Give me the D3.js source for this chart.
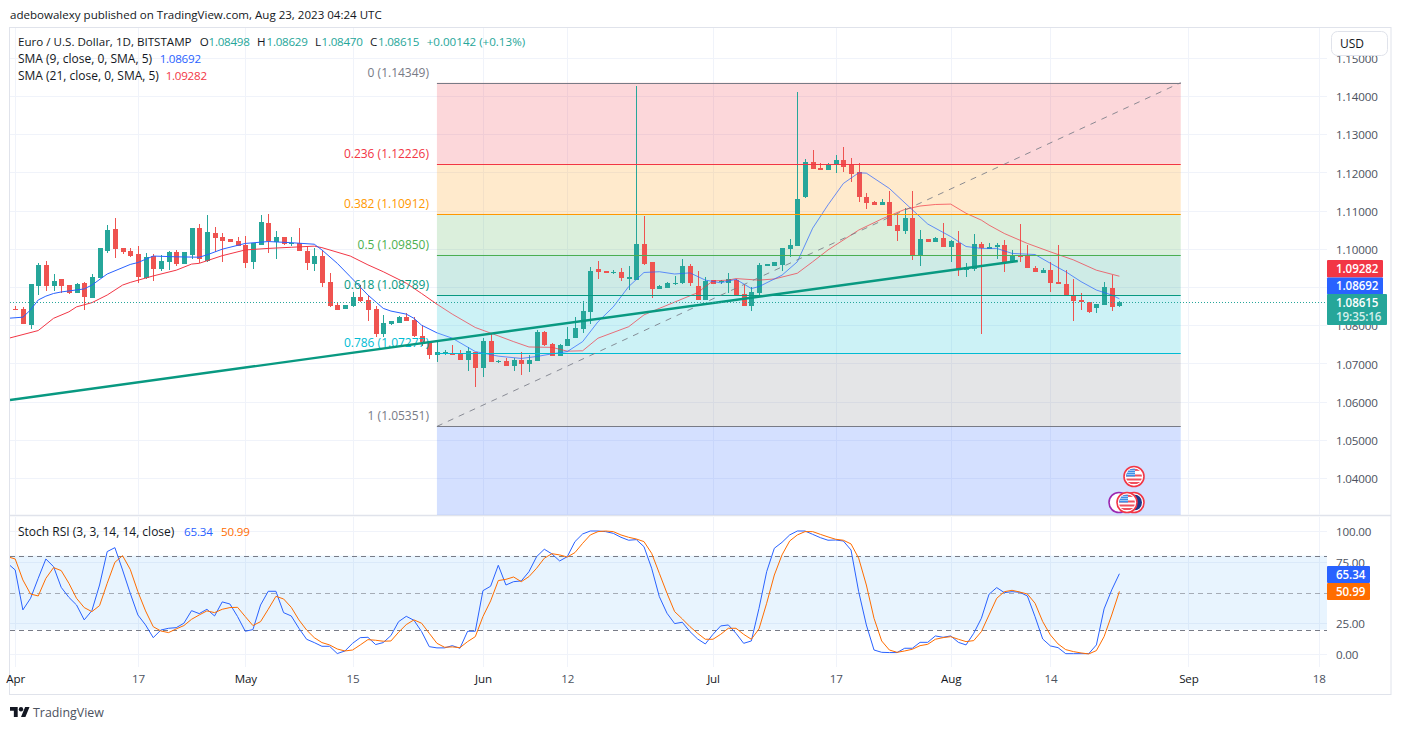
<!DOCTYPE html>
<html>
<head>
<meta charset="utf-8">
<title>Euro / U.S. Dollar, 1D</title>
<script src="https://cdn.jsdelivr.net/npm/d3@7/dist/d3.min.js"></script>
<style>
html,body{margin:0;padding:0;background:#fff;}
svg{display:block;}
text{font-family:"Open Sans","Noto Sans",sans-serif;}
</style>
</head>
<body>
<svg id="chart" width="1401" height="730"></svg>
<script>
// Daily candles, counted in days from 1 April 2023
const opens = [1.0842,1.0842,1.0801,1.0903,1.0957,1.0903,1.0921,1.0905,1.0884,1.0910,
1.0871,1.0923,1.0994,1.1052,1.1002,1.0994,1.0986,1.0923,1.0981,1.0947,
1.0965,1.0992,1.0960,1.0984,1.1054,1.0968,1.1041,1.1031,1.1026,1.1020,
1.1010,1.0965,1.1010,1.1068,1.1018,1.1031,1.1013,1.1015,1.0994,1.0960,
1.0981,1.0913,1.0853,1.0842,1.0850,1.0874,1.0866,1.0842,1.0777,1.0803,
1.0806,1.0821,1.0814,1.0772,1.0759,1.0722,1.0726,1.0725,1.0725,1.0709,
1.0730,1.0688,1.0759,1.0704,1.0706,1.0693,1.0709,1.0698,1.0706,1.0782,
1.0751,1.0719,1.0745,1.0766,1.0790,1.0835,1.0947,1.0942,1.0937,1.0939,
1.0921,1.0918,1.1013,1.0965,1.0895,1.0897,1.0908,1.0910,1.0955,1.0903,
1.0866,1.0918,1.0913,1.0910,1.0918,1.0882,1.0850,1.0884,1.0956,1.0955,
1.0957,1.0999,1.1008,1.1136,1.1227,1.1212,1.1206,1.1219,1.1232,1.1222,
1.1201,1.1136,1.1122,1.1115,1.1122,1.1062,1.1047,1.1081,1.0981,1.1026,
1.1018,1.1028,1.1005,1.1015,1.0944,1.0947,1.1013,1.0999,1.1005,1.1010,
1.0965,1.0984,1.0982,1.0951,1.0937,1.0944,1.0913,1.0908,1.0879,1.0866,
1.0861,1.0845,1.0853,1.0897,1.08498];
const highs = [1.0850,1.0847,1.0908,1.0963,1.0968,1.0934,1.0921,1.0905,1.0910,1.0913,
1.0934,1.1002,1.1062,1.1081,1.1002,1.1002,1.1007,1.0989,1.0986,1.0984,
1.0994,1.0997,1.0992,1.1054,1.1065,1.1088,1.1057,1.1041,1.1026,1.1031,
1.1033,1.1015,1.1088,1.1091,1.1047,1.1031,1.1031,1.1054,1.1007,1.1002,
1.0997,1.0937,1.0861,1.0853,1.0887,1.0905,1.0879,1.0850,1.0827,1.0811,
1.0824,1.0832,1.0821,1.0800,1.0759,1.0761,1.0735,1.0748,1.0735,1.0743,
1.0730,1.0766,1.0777,1.0709,1.0714,1.0714,1.0730,1.0722,1.0787,1.0785,
1.0753,1.0751,1.0795,1.0821,1.0863,1.0952,1.0968,1.0942,1.0944,1.0950,
1.0955,1.1426,1.1086,1.0965,1.0905,1.0913,1.0929,1.0973,1.0960,1.0942,
1.0926,1.0918,1.0918,1.0937,1.0921,1.0905,1.0899,1.0963,1.0960,1.0965,
1.1002,1.1026,1.1410,1.1235,1.1259,1.1224,1.1224,1.1246,1.1267,1.1238,
1.1225,1.1146,1.1125,1.1130,1.1151,1.1091,1.1107,1.1151,1.1049,1.1026,
1.1031,1.1068,1.1023,1.1047,1.0963,1.1039,1.1018,1.1015,1.1015,1.1023,
1.0997,1.1065,1.1010,1.0955,1.0950,1.0965,1.1010,1.0944,1.0921,1.0884,
1.0861,1.0855,1.0913,1.0931,1.08629];
const lows = [1.0840,1.0803,1.0791,1.0879,1.0890,1.0889,1.0885,1.0882,1.0884,1.0840,
1.0871,1.0923,1.0989,1.0976,1.0986,1.0978,1.0910,1.0921,1.0916,1.0942,
1.0944,1.0955,1.0960,1.0973,1.0962,1.0965,1.0992,1.0965,1.1018,1.1007,
1.0950,1.0947,1.1010,1.0989,1.0973,1.1010,1.1007,1.0994,1.0944,1.0942,
1.0900,1.0848,1.0840,1.0842,1.0848,1.0861,1.0811,1.0769,1.0769,1.0800,
1.0806,1.0811,1.0769,1.0745,1.0712,1.0704,1.0722,1.0722,1.0709,1.0680,
1.0638,1.0664,1.0704,1.0701,1.0693,1.0680,1.0670,1.0677,1.0706,1.0745,
1.0719,1.0719,1.0745,1.0766,1.0779,1.0803,1.0921,1.0937,1.0934,1.0916,
1.0892,1.0918,1.0958,1.0871,1.0895,1.0897,1.0905,1.0908,1.0903,1.0866,
1.0866,1.0909,1.0908,1.0884,1.0877,1.0850,1.0838,1.0873,1.0955,1.0955,
1.0942,1.0979,1.1008,1.1133,1.1209,1.1206,1.1206,1.1198,1.1201,1.1176,
1.1122,1.1104,1.1115,1.1115,1.1060,1.1020,1.1039,1.0971,1.0955,1.1018,
1.1018,1.1005,1.0965,1.0929,1.0926,1.0942,1.0777,1.0999,1.0973,1.0939,
1.0962,1.0965,1.0950,1.0939,1.0937,1.0887,1.0908,1.0879,1.0811,1.0840,
1.0832,1.0832,1.0853,1.0837,1.08470];
const closes = [1.0841,1.0803,1.0908,1.0957,1.0903,1.0916,1.0903,1.0884,1.0908,1.0874,
1.0926,1.1002,1.1049,1.0999,1.0992,1.0981,1.0926,1.0978,1.0947,1.0968,
1.0992,1.0960,1.0992,1.1054,1.0973,1.1044,1.1028,1.1020,1.1018,1.1007,
1.0963,1.1015,1.1070,1.1020,1.1031,1.1013,1.1016,1.0994,1.0963,1.0981,
1.0910,1.0850,1.0840,1.0853,1.0874,1.0863,1.0840,1.0777,1.0806,1.0811,
1.0821,1.0811,1.0772,1.0756,1.0722,1.0730,1.0729,1.0722,1.0709,1.0732,
1.0688,1.0759,1.0704,1.0706,1.0693,1.0709,1.0698,1.0709,1.0782,1.0748,
1.0719,1.0748,1.0764,1.0793,1.0837,1.0942,1.0939,1.0937,1.0939,1.0924,
1.0926,1.1013,1.0960,1.0895,1.0903,1.0910,1.0910,1.0955,1.0910,1.0866,
1.0916,1.0909,1.0916,1.0921,1.0877,1.0850,1.0887,1.0958,1.0959,1.0965,
1.1002,1.1010,1.1130,1.1227,1.1209,1.1206,1.1219,1.1232,1.1214,1.1196,
1.1136,1.1120,1.1115,1.1122,1.1060,1.1047,1.1081,1.0981,1.1026,1.1018,
1.1028,1.1005,1.1020,1.0947,1.0952,1.1013,1.1003,1.1005,1.1010,1.0965,
1.0984,1.0978,1.0950,1.0939,1.0944,1.0910,1.0908,1.0879,1.0863,1.0862,
1.0834,1.0855,1.0900,1.0847,1.08615];

// SMA 9 and SMA 21, sampled on the days listed beside them
const sma9Days = [-1,1,2,3,4,5,6,9,10,12,15,16,18,21,24,25,27,30,33,36,39,40,42,43.7,46,48,49,51,52,53,55,57,60,63,66,68,70,72,74,76,78,80,82,84,86,88,90,92,94,96,97,100,102,104,106,108,110,111,114,117,119,122,124,126,128,130,132,133,135,137,139,141,143,144];
const sma9 = [1.0818,1.0821,1.0840,1.0866,1.0876,1.0883,1.0887,1.0895,1.0905,1.0934,1.0959,1.0964,1.0981,1.0979,1.0978,1.0984,1.0999,1.1014,1.1019,1.1016,1.1012,1.0997,1.0962,1.0927,1.0879,1.0844,1.0837,1.0829,1.0818,1.0800,1.0780,1.0766,1.0731,1.0719,1.0713,1.0718,1.0725,1.0731,1.0757,1.0809,1.0848,1.0901,1.0938,1.0940,1.0934,1.0937,1.0918,1.0911,1.0920,1.0896,1.0901,1.0931,1.0966,1.1054,1.1115,1.1171,1.1199,1.1198,1.1158,1.1102,1.1065,1.1032,1.1006,1.1001,1.1001,1.0988,1.0986,1.0985,1.0962,1.0940,1.0914,1.0892,1.0879,1.08692];
const sma21Days = [-1,3,5,7,8,10,12,14,15,18,21,23,24,27,30,33,36,39,40,43.7,46,48,51,53,55,57,60,63,65,67,70,72,74,76,80,82,84,88,89,90,91,93,94,97,99,102,104,106,107,110,113,116,118,120,122,124,126,127,129,132,135,138,141,144];
const sma21 = [1.0765,1.0786,1.0818,1.0835,1.0848,1.0859,1.0879,1.0905,1.0912,1.0929,1.0944,1.0960,1.0962,1.0982,1.0997,1.1001,1.1004,1.1007,1.1003,1.0981,1.0958,1.0940,1.0910,1.0883,1.0855,1.0829,1.0794,1.0772,1.0757,1.0743,1.0742,1.0732,1.0733,1.0766,1.0796,1.0827,1.0844,1.0877,1.0885,1.0901,1.0916,1.0918,1.0922,1.0918,1.0921,1.0936,1.0966,1.0997,1.1010,1.1049,1.1078,1.1103,1.1112,1.1116,1.1117,1.1093,1.1075,1.1062,1.1040,1.1014,1.0992,1.0971,1.0944,1.09282];

// Stoch RSI lines, one value per day from 31 March
const stochK = [73.8,68.4,36.0,45.4,61.6,77.3,71.1,54.3,46.2,40.0,27.9,35.4,56.2,83.3,86.5,68.4,49.5,31.9,23.8,13.5,19.7,21.1,21.6,25.2,35.4,33.0,36.5,31.1,42.5,40.8,30.6,18.7,20.0,40.0,51.1,51.1,33.8,31.1,21.1,12.2,9.5,6.5,6.5,0.6,2.7,8.9,13.5,13.8,7.9,9.5,15.2,26.5,30.8,27.6,18.4,6.2,5.2,5.2,7.0,4.9,18.7,18.7,51.6,55.2,72.2,56.2,58.9,59.5,67.0,79.2,85.2,81.4,75.7,79.2,91.4,97.6,100,100,99.5,98.1,94.9,92.5,93.0,87.3,69.8,46.8,33.3,24.9,26.0,18.4,12.4,8.4,16.2,23.0,23.8,17.0,8.9,10.8,37.3,67.0,86.0,90.8,96.8,100,100,97.3,94.6,92.5,92.7,91.9,84.6,50.8,23.8,3.5,1.6,1.4,1.4,4.9,4.9,9.7,9.7,14.9,13.8,14.9,9.7,7.6,17.0,29.2,48.7,54.1,50.0,50.8,50.3,47.3,30.5,12.4,6.8,5.4,0.5,0.5,0.5,0.5,7.6,36.8,52.2,65.34];
const stochD = [79.2,77.3,60.3,48.9,47.3,61.6,70.3,67.9,57.6,45.4,37.9,34.6,39.5,57.6,74.6,80.0,68.9,50.8,35.2,22.4,18.9,17.6,20.6,23.3,28.4,31.9,35.2,33.8,36.5,37.9,38.1,30.6,23.3,26.5,36.5,47.0,44.9,38.1,27.9,19.7,13.5,9.5,7.6,4.3,2.7,3.5,7.6,11.9,11.4,10.6,10.8,17.9,24.1,27.9,25.2,17.0,8.9,5.7,6.0,5.4,10.3,14.3,30.6,43.3,59.8,60.8,62.7,58.9,63.0,69.8,77.9,81.6,80.6,78.9,82.5,90.0,96.8,99.5,100,99.5,96.8,94.9,93.5,91.4,81.9,65.7,49.5,34.6,28.7,22.4,17.0,12.2,12.2,16.2,21.1,21.1,16.2,12.2,20.6,41.4,64.3,80.6,91.9,96.8,99.5,99.5,97.3,95.2,93.3,92.5,89.5,77.9,56.2,29.2,10.8,3.5,1.6,2.7,4.1,7.0,8.1,12.2,13.5,14.3,12.2,10.3,11.1,18.4,31.9,45.4,50.8,51.9,50.5,48.9,41.4,26.5,15.7,8.4,3.8,2.2,1.1,0.3,3.0,14.3,31.9,50.99];

// Fibonacci retracement drawing
const fibRatios = ["0","0.236","0.382","0.5","0.618","0.786","1"];
const fibPrices = [1.14349,1.12226,1.10912,1.09850,1.08789,1.07277,1.05351];
const fibColors = ["#787b86","#f23645","#ff9800","#4caf50","#089981","#00bcd4","#787b86"];
const fibBandColors = ["#f23645","#ff9800","#4caf50","#089981","#00bcd4","#787b86","#2962ff"];
const fibDays = [55,152];
const fibFloor = 1.0303;

// Hand-drawn trend line
const trendDays = [-0.68,130.75];
const trendPrices = [1.06042,1.09681];

// Axis ticks
const timeTickDays = [0,16,30,44,61,72,91,107,122,135,153,170];
const timeTickLabels = ["Apr","17","May","15","Jun","12","Jul","17","Aug","14","Sep","18"];
const monthLabels = ["Apr","May","Jun","Jul","Aug","Sep"];
const priceTicks = [1.04,1.05,1.06,1.07,1.08,1.09,1.10,1.11,1.12,1.13,1.14,1.15];
const stochTicks = [0,25,75,100];
const stochBands = [80,50,20];

// Last values shown beside the scales
const lastPrice = 1.08615, lastSma9 = 1.08692, lastSma21 = 1.09282;
const lastK = 65.34, lastD = 50.99;

const UP = "#26a69a", DOWN = "#ef5350", BLUE = "#2962ff", RED = "#f23645", ORANGE = "#ff6d00";
const INK = "#131722", MUTED = "#4c525e", GRID = "#f0f3fa", FRAME = "#e0e3eb";

const paneLeft = 10, paneRight = 1327, frameRight = 1391;
const mainTop = 28, mainBottom = 515, stochTop = 517, stochBottom = 667;

const svg = d3.select("#chart");
const x = d3.scaleLinear().domain([0,144]).range([15.2,1119.4]);
const y = d3.scaleLinear().domain([1.04,1.14]).range([478,96]);
const ys = d3.scaleLinear().domain([0,100]).range([654.3,531]);

const defs = svg.append("defs");
defs.append("clipPath").attr("id","clip-main").append("rect")
  .attr("x",paneLeft).attr("y",mainTop).attr("width",paneRight-paneLeft).attr("height",mainBottom-mainTop);
defs.append("clipPath").attr("id","clip-stoch").append("rect")
  .attr("x",paneLeft).attr("y",stochTop).attr("width",paneRight-paneLeft).attr("height",stochBottom-stochTop);
// The moving averages are drawn softer where they cross the retracement bands
defs.append("clipPath").attr("id","clip-open").append("rect")
  .attr("x",paneLeft).attr("y",mainTop).attr("width",x(fibDays[0])-paneLeft).attr("height",mainBottom-mainTop);
defs.append("clipPath").attr("id","clip-fib").append("rect")
  .attr("x",x(fibDays[0])).attr("y",mainTop).attr("width",x(fibDays[1])-x(fibDays[0])).attr("height",mainBottom-mainTop);

// Page header
svg.append("text").attr("x",10).attr("y",19).attr("font-size",11.55).attr("fill",INK)
  .text("adebowalexy published on TradingView.com, Aug 23, 2023 04:24 UTC");

// Outer frame and pane divider
svg.append("rect").attr("x",9.5).attr("y",27.5).attr("width",frameRight-9.5).attr("height",667)
  .attr("fill","none").attr("stroke",FRAME);
svg.append("line").attr("x1",10).attr("x2",frameRight).attr("y1",515.5).attr("y2",515.5)
  .attr("stroke",FRAME).attr("stroke-width",1.5);

// Vertical grid in both panes
const vGrid = (top,bottom) => {
  const g = svg.append("g").attr("transform",`translate(0,${bottom})`)
    .call(d3.axisBottom(x).tickValues(timeTickDays).tickFormat("").tickSize(-(bottom-top)));
  g.select(".domain").remove();
  g.selectAll("line").attr("stroke",GRID).attr("shape-rendering","crispEdges");
};
vGrid(mainTop,mainBottom);
vGrid(stochTop,stochBottom);

// Horizontal grid
const hGrid = (scale,ticks) => {
  const g = svg.append("g").attr("transform",`translate(${paneRight},0)`)
    .call(d3.axisLeft(scale).tickValues(ticks).tickFormat("").tickSize(paneRight-paneLeft));
  g.select(".domain").remove();
  g.selectAll("line").attr("stroke",GRID).attr("shape-rendering","crispEdges");
};
hGrid(y,priceTicks);
hGrid(ys,stochTicks);

const main = svg.append("g").attr("clip-path","url(#clip-main)");

// Fibonacci bands
const fibEdges = fibPrices.concat([fibFloor]);
main.append("g").selectAll("rect").data(fibBandColors).join("rect")
  .attr("x",x(fibDays[0])).attr("width",x(fibDays[1])-x(fibDays[0]))
  .attr("y",(d,i)=>y(fibEdges[i])).attr("height",(d,i)=>y(fibEdges[i+1])-y(fibEdges[i]))
  .attr("fill",d=>d).attr("fill-opacity",0.2);

// Candles
const candles = main.append("g").selectAll("g").data(opens.map((o,i)=>({i,o,h:highs[i],l:lows[i],c:closes[i]})))
  .join("g").attr("shape-rendering","crispEdges")
  .attr("fill",d=>d.c>=d.o?UP:DOWN);
candles.append("rect").attr("x",d=>Math.round(x(d.i))).attr("width",1)
  .attr("y",d=>y(d.h)).attr("height",d=>Math.max(1,y(d.l)-y(d.h)));
candles.append("rect").attr("x",d=>Math.round(x(d.i))-2).attr("width",5)
  .attr("y",d=>y(Math.max(d.o,d.c))).attr("height",d=>Math.max(1,Math.abs(y(d.o)-y(d.c))));

// Moving averages
const smaLine = d3.line().x(d=>x(d[0])).y(d=>y(d[1]));
const drawSma = (days,values,color) => {
  const d = smaLine(days.map((t,i)=>[t,values[i]]));
  main.append("path").attr("d",d).attr("clip-path","url(#clip-open)")
    .attr("fill","none").attr("stroke",color).attr("stroke-width",1);
  main.append("path").attr("d",d).attr("clip-path","url(#clip-fib)")
    .attr("fill","none").attr("stroke",color).attr("stroke-width",1).attr("stroke-opacity",0.7);
};
drawSma(sma21Days,sma21,RED);
drawSma(sma9Days,sma9,BLUE);

// Fibonacci lines and labels
main.append("g").selectAll("line").data(fibPrices).join("line")
  .attr("x1",x(fibDays[0])).attr("x2",x(fibDays[1]))
  .attr("y1",d=>Math.round(y(d))+0.5).attr("y2",d=>Math.round(y(d))+0.5)
  .attr("stroke",(d,i)=>fibColors[i]);
main.append("line")
  .attr("x1",x(fibDays[0])).attr("y1",y(fibPrices[6]))
  .attr("x2",x(fibDays[1])).attr("y2",y(fibPrices[0]))
  .attr("stroke","#787b86").attr("stroke-opacity",0.85).attr("stroke-dasharray","6 6");
main.append("g").selectAll("text").data(fibPrices).join("text")
  .attr("x",429).attr("y",d=>y(d)-6).attr("text-anchor","end").attr("font-size",12)
  .attr("fill",(d,i)=>fibColors[i])
  .text((d,i)=>`${fibRatios[i]} (${d.toFixed(5)})`);

// Trend line
main.append("line")
  .attr("x1",x(trendDays[0])).attr("y1",y(trendPrices[0]))
  .attr("x2",x(trendDays[1])).attr("y2",y(trendPrices[1]))
  .attr("stroke","#089981").attr("stroke-width",2.4);

// Last price marker line
svg.append("line").attr("x1",paneLeft).attr("x2",paneRight)
  .attr("y1",Math.round(y(lastPrice))+0.5).attr("y2",Math.round(y(lastPrice))+0.5)
  .attr("stroke",UP).attr("stroke-dasharray","1 2");

// Economic event badges
const badge = (cx,cy,ring,kind,id) => {
  const g = svg.append("g");
  g.append("circle").attr("cx",cx).attr("cy",cy).attr("r",10)
    .attr("fill","#fff").attr("stroke",ring).attr("stroke-width",1.6);
  if (!kind) return;
  defs.append("clipPath").attr("id",id).append("circle").attr("cx",cx).attr("cy",cy).attr("r",8);
  const f = g.append("g").attr("clip-path",`url(#${id})`);
  if (kind === "eu") {
    f.append("rect").attr("x",cx-8).attr("y",cy-8).attr("width",16).attr("height",16).attr("fill","#1e3a8a");
    return;
  }
  [-2,2,5.5].forEach(dy => f.append("rect").attr("x",cx-8).attr("y",cy+dy).attr("width",16).attr("height",2).attr("fill","#f0525f"));
  f.append("rect").attr("x",cx-8).attr("y",cy-8).attr("width",16).attr("height",2.4).attr("fill","#f0525f");
  f.append("rect").attr("x",cx-8).attr("y",cy-8).attr("width",9).attr("height",8).attr("fill","#3f8fe8");
  d3.range(4).forEach(a => d3.range(3).forEach(b =>
    f.append("rect").attr("x",cx-6.5+a*2).attr("y",cy-6.5+b*2).attr("width",1).attr("height",1).attr("fill","#fff")));
};
badge(1134,476.5,RED,"us","flag-a");
badge(1119,502.5,"#9c27b0",null,"flag-b");
badge(1134,502.5,RED,"eu","flag-c");
badge(1127,502.5,RED,"us","flag-d");

// Stoch RSI band, guides and lines
const stoch = svg.append("g").attr("clip-path","url(#clip-stoch)");
stoch.append("rect").attr("x",paneLeft).attr("width",paneRight-paneLeft)
  .attr("y",ys(stochBands[0])).attr("height",ys(stochBands[2])-ys(stochBands[0]))
  .attr("fill","#2196f3").attr("fill-opacity",0.1);
stoch.append("g").selectAll("line").data(stochBands).join("line")
  .attr("x1",paneLeft).attr("x2",paneRight)
  .attr("y1",d=>Math.round(ys(d))+0.5).attr("y2",d=>Math.round(ys(d))+0.5)
  .attr("stroke","#787b86").attr("stroke-opacity",d=>d===50?0.6:1).attr("stroke-dasharray","5 4");
const stochLine = d3.line().x((d,i)=>x(i-1)).y(d=>ys(d));
stoch.append("path").attr("d",stochLine(stochK)).attr("fill","none").attr("stroke",BLUE).attr("stroke-width",1);
stoch.append("path").attr("d",stochLine(stochD)).attr("fill","none").attr("stroke",ORANGE).attr("stroke-width",1);

// Scales
const styleAxis = g => {
  g.select(".domain").remove();
  g.selectAll("line").remove();
  g.selectAll("text").attr("font-size",11.6).attr("letter-spacing",-0.15)
    .attr("font-family",'"Open Sans","Noto Sans",sans-serif').attr("fill",MUTED);
};
svg.append("g").attr("transform",`translate(${paneRight},1)`)
  .call(d3.axisRight(y).tickValues(priceTicks).tickFormat(d3.format(".5f")).tickSize(0).tickPadding(9))
  .call(styleAxis);
svg.append("g").attr("transform",`translate(${paneRight},0.5)`)
  .call(d3.axisRight(ys).tickValues(stochTicks).tickFormat(d3.format(".2f")).tickSize(0).tickPadding(9))
  .call(styleAxis);
svg.append("g").attr("transform",`translate(0,${stochBottom})`)
  .call(d3.axisBottom(x).tickValues(timeTickDays).tickFormat((d,i)=>timeTickLabels[i]).tickSize(0).tickPadding(8))
  .call(styleAxis)
  .selectAll("text").attr("fill",(d,i)=>monthLabels.includes(timeTickLabels[i])?INK:MUTED);

// Value tags on the price scales
const tag = (top,height,width,color,lines) => {
  svg.append("rect").attr("x",paneRight).attr("y",top).attr("width",width).attr("height",height)
    .attr("rx",1).attr("fill",color);
  lines.forEach(l => svg.append("text").attr("x",paneRight+9).attr("y",l.y)
    .attr("font-size",11.6).attr("letter-spacing",-0.1).attr("font-weight",600).attr("fill",l.fill||"#fff").text(l.text));
};
tag(260,17.5,56,RED,[{y:273,text:lastSma21.toFixed(5)}]);
tag(277.5,17,56,BLUE,[{y:290,text:lastSma9.toFixed(5)}]);
tag(294,31,60,UP,[{y:307,text:lastPrice.toFixed(5)},{y:321,text:"19:35:16",fill:"#d4efeb"}]);
tag(566,17,43,BLUE,[{y:579,text:lastK.toFixed(2)}]);
tag(583,17,43,ORANGE,[{y:596,text:lastD.toFixed(2)}]);

// Currency button
svg.append("rect").attr("x",1331.5).attr("y",31.5).attr("width",56).attr("height",24).attr("rx",6)
  .attr("fill","#fff").attr("stroke",FRAME);
svg.append("text").attr("x",1340).attr("y",48).attr("font-size",12).attr("fill",INK).text("USD");

// Legends
const legend = (tx,ty,text,fill,size=12,spacing=0) => svg.append("text").attr("x",tx).attr("y",ty)
  .attr("font-size",size).attr("letter-spacing",spacing).attr("fill",fill).text(text);
legend(18,46,"Euro / U.S. Dollar, 1D, BITSTAMP",INK,11.6);
[[199.7,"O",208.5,"1.08498"],[257,"H",266.5,"1.08629"],[315,"L",321.5,"1.08470"],[370,"C",378,"1.08615"]]
  .forEach(([a,k,b,v]) => { legend(a,46,k,INK,11.6); legend(b,46,v,UP,11.6,-0.25); });
legend(426.7,46,"+0.00142 (+0.13%)",UP,11.6);
legend(18,63,"SMA (9, close, 0, SMA, 5)",INK);
legend(159.7,63,lastSma9.toFixed(5),BLUE,11.6,-0.25);
legend(18,80,"SMA (21, close, 0, SMA, 5)",INK);
legend(165.7,80,lastSma21.toFixed(5),RED,11.6,-0.25);
legend(18,536,"Stoch RSI (3, 3, 14, 14, close)",INK);
legend(184,536,lastK.toFixed(2),BLUE,11.6,-0.15);
legend(221,536,lastD.toFixed(2),ORANGE,11.6,-0.15);

// Footer brand mark
const mark = svg.append("g").attr("transform","translate(10,704.8) scale(0.55)").attr("fill",INK);
mark.append("path").attr("d","M14 22H7V11H0V4h14v18ZM28 22h-8l7.5-18h8L28 22Z");
mark.append("circle").attr("cx",20).attr("cy",8).attr("r",4);
svg.append("text").attr("x",33).attr("y",717).attr("font-size",12.4).attr("fill",MUTED).text("TradingView");
</script>
</body>
</html>
